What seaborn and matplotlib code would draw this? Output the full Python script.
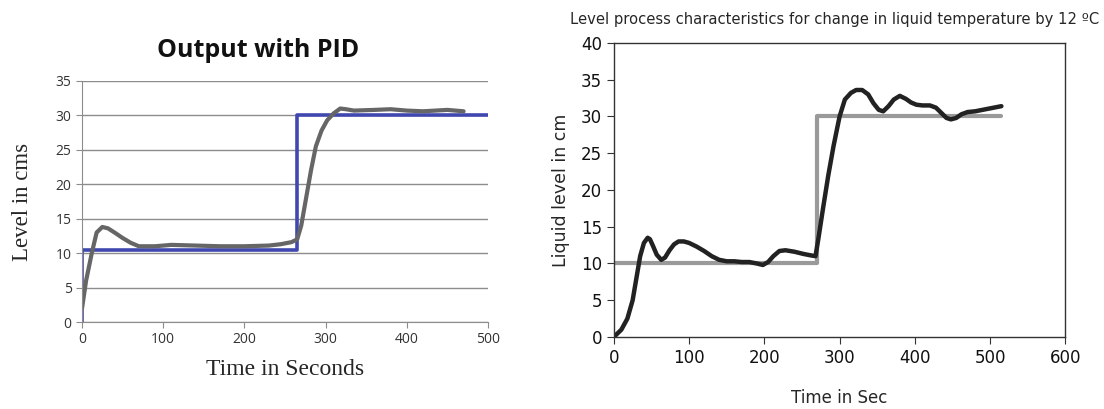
import pandas as pd
import matplotlib.pyplot as plt
import seaborn as sns

# left chart: PID output
pid_set_t = [0, 0, 265, 265, 500]
pid_set_y = [0, 10.5, 10.5, 30, 30]
pid_t = [0, 5, 12, 18, 25, 32, 40, 50, 60, 70, 90, 110, 140, 170, 200, 230, 245,
         258, 265, 270, 276, 282, 288, 295, 302, 310, 318, 325, 335, 360, 380, 400, 420, 450, 470]
pid_y = [2, 6, 10, 13, 13.8, 13.6, 13, 12.2, 11.5, 11, 11, 11.2, 11.1, 11, 11, 11.1, 11.3,
         11.6, 12, 14, 18, 22, 25.5, 27.8, 29.3, 30.3, 31, 30.9, 30.7, 30.8, 30.9, 30.7, 30.6, 30.8, 30.6]

# right chart: temperature change by 12 C
tmp_set_t = [0, 270, 270, 515]
tmp_set_y = [10, 10, 30, 30]
tmp_t = [0, 10, 18, 25, 30, 35, 40, 45, 48, 52, 57, 63, 68, 74, 80, 86, 93, 100, 110, 120,
         130, 140, 150, 160, 170, 180, 190, 198, 205, 212, 220, 228, 240, 252, 262, 268,
         272, 278, 285, 292, 300, 307, 315, 322, 330, 338, 345, 352, 358, 365, 372, 380,
         388, 395, 402, 410, 420, 428, 435, 442, 448, 455, 462, 470, 480, 490, 500, 515]
tmp_y = [0, 1, 2.5, 5, 8, 11, 12.8, 13.5, 13.3, 12.4, 11.2, 10.5, 10.8, 11.8, 12.6, 13, 13,
         12.8, 12.3, 11.7, 11, 10.5, 10.3, 10.3, 10.2, 10.2, 10, 9.8, 10.2, 11, 11.7, 11.8,
         11.6, 11.3, 11.1, 11, 13.5, 17.5, 22, 26, 30, 32.3, 33.2, 33.6, 33.6, 33, 31.8,
         30.9, 30.7, 31.4, 32.3, 32.8, 32.4, 31.9, 31.6, 31.5, 31.5, 31.2, 30.5, 29.8,
         29.6, 29.8, 30.3, 30.6, 30.7, 30.9, 31.1, 31.4]

sns.set_style("white")

fig = plt.figure(figsize=(11.04, 4.09), dpi=100)
ax1 = fig.add_axes([0.0743, 0.2127, 0.3677, 0.5893])
ax2 = fig.add_axes([0.556, 0.176, 0.409, 0.719])

# ---- left panel ----
sns.lineplot(x=pid_set_t, y=pid_set_y, ax=ax1, color="#4048b0", lw=2.6,
             estimator=None, sort=False)
sns.lineplot(x=pid_t, y=pid_y, ax=ax1, color="#666666", lw=3,
             estimator=None, sort=False)
ax1.set_xlim(0, 500)
ax1.set_ylim(0, 35)
ax1.set_xticks(range(0, 501, 100))
ax1.set_yticks(range(0, 36, 5))
ax1.yaxis.grid(True, color="#8c8c8c", lw=1)
ax1.set_axisbelow(True)
for s in ["top", "right"]:
    ax1.spines[s].set_visible(False)
for s in ["left", "bottom"]:
    ax1.spines[s].set_color("#8c8c8c")
ax1.tick_params(axis="both", colors="#8c8c8c", labelcolor="#333333", labelsize=10,
                length=4, direction="out", bottom=True, left=True)
for lab in ax1.get_xticklabels() + ax1.get_yticklabels():
    lab.set_family("Open Sans")
ax1.set_title("Output with PID", fontsize=18, fontweight="bold", family="Open Sans",
              color="#111111", x=0.433, pad=17)
ax1.set_xlabel("Time in Seconds", fontsize=17, family="Liberation Serif", labelpad=8)
ax1.set_ylabel("Level in cms", fontsize=16.5, family="Liberation Serif", labelpad=16)

# ---- right panel ----
sns.lineplot(x=tmp_set_t, y=tmp_set_y, ax=ax2, color="#9a9a9a", lw=3,
             estimator=None, sort=False)
sns.lineplot(x=tmp_t, y=tmp_y, ax=ax2, color="#222222", lw=3.2,
             estimator=None, sort=False)
ax2.set_xlim(0, 600)
ax2.set_ylim(0, 40)
ax2.set_xticks(range(0, 601, 100))
ax2.set_yticks(range(0, 41, 5))
for s in ax2.spines.values():
    s.set_color("#333333")
    s.set_linewidth(1)
ax2.tick_params(axis="both", colors="#333333", labelcolor="#111111", labelsize=12,
                length=5, direction="out", bottom=True, left=True)
ax2.set_title("Level process characteristics for change in liquid temperature by 12 \u00baC",
              fontsize=10.6, loc="right", x=1.075, pad=14)
ax2.set_xlabel("Time in Sec", fontsize=12, labelpad=16)
ax2.set_ylabel("Liquid level in cm", fontsize=12.5, labelpad=8)

fig.savefig("out.png", dpi=100)
